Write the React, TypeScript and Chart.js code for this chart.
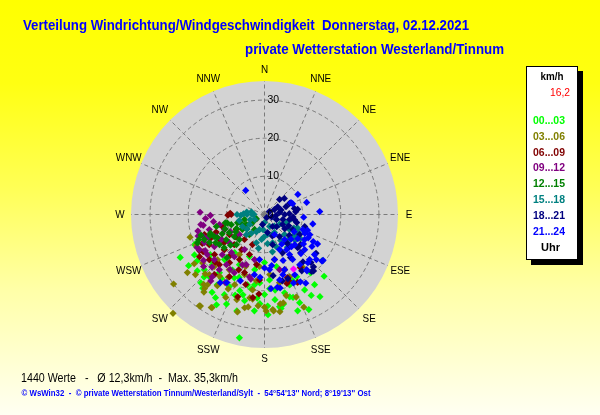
import React, { useEffect, useRef } from "react";
import { Chart, registerables } from "chart.js";

Chart.register(...registerables);

// ---------------- data ----------------
const compassLabels = ["N", "NNE", "NE", "ENE", "E", "ESE", "SE", "SSE", "S", "SSW", "SW", "WSW", "W", "WNW", "NW", "NNW"];
const speedTicks = [0, 10, 20, 30];
const speedMax = 35;
const hourLabels = ["00...03", "03...06", "06...09", "09...12", "12...15", "15...18", "18...21", "21...24"];
const hourColors = ["#00ff00", "#808000", "#800000", "#800080", "#008000", "#008080", "#000080", "#0000ff"];
const currentColor = "#ff00ff";

const titleText = "Verteilung Windrichtung/Windgeschwindigkeit  Donnerstag, 02.12.2021";
const subtitleText = "private Wetterstation Westerland/Tinnum";
const unitLabel = "km/h";
const currentSpeedLabel = "16,2";
const hourUnit = "Uhr";
const summaryText = "1440 Werte   -   Ø 12,3km/h  -  Max. 35,3km/h";
const footerText = "© WsWin32  -  © private Wetterstation Tinnum/Westerland/Sylt  -  54°54'13'' Nord; 8°19'13'' Ost";

// [wind direction in degrees, speed in km/h]
const h00_03: [number, number][] = [
  [243, 24.8], [235.5, 21.4], [223, 24.5], [220, 25.2], [210.5, 25.3], [203, 25.5], [196, 26.3], [191.5, 33],
  [186, 25.4], [178, 26.3], [170, 25], [161, 23], [161, 26.7], [155, 27.5], [141.6, 19.5], [136, 22.5],
  [128.6, 19.4], [157, 18.9], [246, 19.9], [213.9, 22.2], [206, 21], [198, 21], [193.6, 19], [206.6, 23.5],
  [221.6, 21.8], [227.5, 21.4], [240, 21.2], [226, 19], [217.8, 19.3], [205.5, 18.4], [188, 18.6], [180, 21],
  [173, 22.5], [175.6, 17.2], [193, 23.2], [165.6, 21.2], [160.3, 19.6], [152.7, 18.4], [152, 22.4], [144.5, 22.6],
  [158.3, 24.9], [170.7, 24.5], [233.5, 17.7], [221.6, 15.8], [206.6, 14.7], [190, 14.7], [218, 12.7], [199.6, 11.7],
  [180, 12.6], [167, 14], [247, 19.7], [214, 24.6], [183, 23.4], [200, 22.5], [195, 21.8], [185, 22],
  [178, 24], [172, 20], [168, 24], [163, 22.6], [150, 24.5], [146, 26], [208, 26.8], [214, 20.2],
  [224, 22.8], [230, 23], [236, 24], [202, 17.8], [190, 19.8], [176, 19.5], [184, 18], [210, 16.8],
  [230, 18.5],
];
const h03_06: [number, number][] = [
  [222.8, 35.3], [232.6, 30], [233, 25.3], [253, 20.4], [215, 29.3], [209.4, 28], [219, 25], [221, 24.3],
  [218, 25.8], [192, 25], [190, 24.6], [188, 22.4], [179, 25.3], [175, 25], [170, 23.8], [168, 23.7],
  [145, 16.4], [144, 17.3], [206, 21.7], [213.5, 22.4], [219, 23.7], [226, 17.1], [212.5, 17.2], [198.4, 16.6],
  [187, 17.5], [228.8, 14], [212, 12.4], [203, 20], [189, 20], [222.5, 21.4], [175, 15.8], [167.6, 18.3],
  [158, 17.6], [232, 20.6], [246, 19.6], [185.5, 13.7], [215.5, 29.4], [209.8, 28.1], [195.5, 26.5], [190, 22.2],
  [174.6, 25.4], [171, 25.8], [157, 26.4], [159, 23.2], [180, 24.3], [225, 22], [229, 24], [216, 20],
  [205, 24], [198, 23.5], [184, 24], [200, 14.5], [210, 19], [224, 19], [235, 22.5], [165, 22],
];
const h06_09: [number, number][] = [
  [272, 9], [270, 8.7], [269, 9.6], [241, 19.5], [248, 14.8], [246, 15.6], [238.8, 18.8], [162, 19],
  [160, 18.5], [198, 22.7], [184, 20.9], [188, 22], [154, 19.8], [160, 17.6], [146, 16.8], [241.4, 16.5],
  [241, 13.5], [240, 10.6], [231.3, 16.8], [228.8, 14], [225, 11.2], [218.7, 8.4], [222, 17.7], [216, 15.6],
  [209, 13.5], [200.6, 11.2], [219.8, 20.5], [209.4, 18.7], [199, 16.1], [189, 13.3], [184.4, 17.2], [251.6, 16.6],
  [254, 11.5], [242, 8.4], [230.7, 18.7], [167.5, 12.1], [160, 15.4], [201.8, 8.5], [237, 20.3], [235, 13],
  [226, 18], [213, 11], [205, 16], [195, 19], [245, 18], [250, 13.5], [220, 14], [232, 9.5],
];
const h09_12: [number, number][] = [
  [272, 16.9], [269, 14.2], [266, 15.5], [260, 16.3], [261, 16.9], [252, 18.3], [250, 17], [244, 19.7],
  [238.6, 18.2], [229.5, 21], [219, 22.4], [210, 20.6], [192, 17.3], [254.7, 15], [245.4, 13.9], [249.4, 11.2],
  [231.3, 11.8], [237.4, 15.6], [226.4, 15.3], [215.5, 13.6], [235, 18.3], [219.3, 18.7], [203.7, 14.4], [192.5, 12.1],
  [207.4, 17.2], [245, 17.4], [231.3, 8.4], [217.2, 16.5], [193.6, 16.8], [228, 17.7], [241.7, 19.4], [164.7, 15],
  [220, 21.3], [257.5, 12.1], [221, 13.2], [209.7, 10.6], [240, 13], [248, 16], [233, 20], [225, 19.5],
  [212, 17], [262, 13.5], [256, 18], [200, 14], [243, 10],
];
const h12_15: [number, number][] = [
  [257, 10], [253, 7.4], [237, 4.4], [247, 19.1], [249, 15.3], [244, 13.8], [258, 10.5], [251, 15],
  [249, 18.5], [221, 15], [243, 2.4], [236, 3.8], [241, 5.4], [236, 7], [243.4, 8.2], [233.7, 9.8],
  [242.8, 10.4], [236.7, 12], [245.5, 12.2], [236.3, 14.2], [225, 9.3], [216.9, 6.6], [246.3, 14.4], [253, 9.1],
  [256, 5.4], [230.5, 13.7], [243, 16.2], [223, 10.8], [213.7, 4.7], [256, 13], [247.4, 17.1], [239, 8.8],
  [250, 11], [228, 12], [232, 6], [248, 6.5], [240, 14.8], [252, 17.5],
];
const h15_18: [number, number][] = [
  [270, 7.2], [270, 4.6], [271, 2.8], [272, 5.5], [270, 3.2], [268, 6.2], [155, 5.5], [148, 8],
  [141, 9.7], [182, 6], [174, 7.7], [112, 9.3], [126, 9.4], [124, 11.4], [118, 10], [130, 10.5],
  [115, 8.5], [180, 2.1], [157, 3.4], [151, 5.4], [123.7, 4.7], [135, 7.4], [121, 7.7], [198.4, 4.2],
  [186.8, 6.6], [164, 7.7], [146, 8.5], [112.6, 3.4], [243, 2.9], [236, 4.7], [241.4, 6.6], [256.5, 6.8],
  [222, 7.1], [110, 6.2], [126.3, 9.8], [171.5, 5.3], [196, 7.7], [278, 4.7], [281, 3.5], [160, 9],
  [168, 10], [145, 10.5], [135, 9], [205, 5], [215, 6], [230, 6], [250, 4], [190, 9],
  [140, 4], [100, 7], [185, 4],
];
const h18_21: [number, number][] = [
  [51, 6.7], [45, 5.6], [66, 7.2], [81, 8.8], [85, 8.2], [139, 19.6], [136, 17.5], [127, 16.9],
  [160, 17.9], [172, 16.2], [165, 18], [141, 16], [140.4, 19.4], [137, 18.8], [146.5, 17.7], [59, 1.5],
  [63.4, 2.9], [82.4, 4], [90, 5.3], [112.6, 3.4], [101.3, 6.7], [78.7, 8], [146, 3.8], [119, 5.4],
  [118, 8.4], [170.5, 4.8], [145.7, 7], [141.8, 9.4], [119.7, 10.6], [104, 8.7], [165, 8.2], [191, 2.7],
  [142, 10.7], [129.8, 12.3], [154.7, 11.1], [106.7, 11], [146, 1], [135, 12.3], [136.5, 13.8], [148.8, 13.2],
  [75, 4.5], [95, 3], [105, 5], [88, 6.5], [70, 6], [125, 6.5], [135, 4.5], [100, 8],
  [115, 7], [160, 6], [130, 8.5], [95, 7.5], [60, 4], [110, 2],
];
const h21_24: [number, number][] = [
  [322, 8], [59, 10.2], [74, 11.5], [87, 14.5], [66, 7.6], [94, 10.3], [101, 12.9], [115, 11.7],
  [118, 13], [119, 15.9], [128, 19.5], [149, 21], [69, 7.9], [175, 19.5], [168, 19.7], [209, 20.4],
  [213, 21.3], [200, 18.5], [137, 14], [126, 10.8], [127, 12.8], [119, 14.6], [143, 18.5], [129, 19.4],
  [170, 19.4], [184, 16.5], [153.4, 5.9], [141.3, 8.4], [135, 11.2], [131.2, 14], [135, 16.7], [156.8, 10],
  [148, 12.4], [145, 16.1], [167.5, 12.1], [160, 15.4], [153.4, 17.7], [174.8, 14.5], [122, 12.4], [114, 13],
  [111.5, 10.8], [128.7, 16.8], [186.3, 11.9], [189.5, 16], [167, 17.6], [148, 13.9], [142.6, 18.2], [147.8, 10.9],
  [140, 11], [133, 9.5], [150, 9], [158, 13], [163, 16.5], [172, 13.5], [120, 9], [110, 12],
  [138, 17], [152, 20], [180, 14], [157, 19.5], [124, 15], [131, 18],
];
const currentReading: [number, number][] = [[152, 16.2]];

const hourGroups = [h00_03, h03_06, h06_09, h09_12, h12_15, h15_18, h18_21, h21_24];

// ---------------- drawing helpers ----------------
const FONT = "'Liberation Sans', Arial, sans-serif";

function toXY(p: [number, number]) {
  const a = (p[0] * Math.PI) / 180;
  return { x: p[1] * Math.sin(a), y: p[1] * Math.cos(a) };
}

function fitText(ctx: CanvasRenderingContext2D, text: string, x: number, y: number, width: number, align: string) {
  ctx.save();
  ctx.textAlign = "left";
  const w = ctx.measureText(text).width;
  const s = width / w;
  let x0 = x;
  if (align === "center") x0 = x - width / 2;
  else if (align === "right") x0 = x - width;
  ctx.translate(x0, y);
  ctx.scale(s, 1);
  ctx.fillText(text, 0, 0);
  ctx.restore();
}

function squeezeText(ctx: CanvasRenderingContext2D, text: string, x: number, y: number, sx: number, align: CanvasTextAlign) {
  ctx.save();
  ctx.translate(x, y);
  ctx.scale(sx, 1);
  ctx.textAlign = align;
  ctx.fillText(text, 0, 0);
  ctx.restore();
}

function geometry(chart: any) {
  const xs = chart.scales.x;
  const ys = chart.scales.y;
  const cx = xs.getPixelForValue(0);
  const cy = ys.getPixelForValue(0);
  const unit = xs.getPixelForValue(1) - cx;
  return { cx, cy, unit, R: unit * speedMax };
}

const rosePlugin = {
  id: "windRose",
  beforeDraw(chart: any) {
    const { ctx, width, height } = chart;
    const g = ctx.createLinearGradient(0, 0, 0, height);
    g.addColorStop(0, "#ffff00");
    g.addColorStop(0.2, "#ffff12");
    g.addColorStop(0.45, "#ffff55");
    g.addColorStop(0.7, "#ffffa8");
    g.addColorStop(1, "#fffff2");
    ctx.save();
    ctx.fillStyle = g;
    ctx.fillRect(0, 0, width, height);
    ctx.restore();
  },
  beforeDatasetsDraw(chart: any) {
    const ctx: CanvasRenderingContext2D = chart.ctx;
    const { cx, cy, unit, R } = geometry(chart);
    ctx.save();
    ctx.fillStyle = "#d3d3d3";
    ctx.beginPath();
    ctx.arc(cx, cy, R, 0, Math.PI * 2);
    ctx.fill();
    ctx.strokeStyle = "#7a7a7a";
    ctx.lineWidth = 1;
    ctx.setLineDash([4, 3]);
    speedTicks.forEach((t) => {
      if (t <= 0) return;
      ctx.beginPath();
      ctx.arc(cx, cy, t * unit, 0, Math.PI * 2);
      ctx.stroke();
    });
    compassLabels.forEach((_, i) => {
      const a = (i * 22.5 * Math.PI) / 180;
      ctx.beginPath();
      ctx.moveTo(cx, cy);
      ctx.lineTo(cx + R * Math.sin(a), cy - R * Math.cos(a));
      ctx.stroke();
    });
    ctx.setLineDash([]);
    ctx.fillStyle = "#000000";
    ctx.font = `11px ${FONT}`;
    ctx.textBaseline = "middle";
    speedTicks.forEach((t) => {
      if (t <= 0) return;
      squeezeText(ctx, String(t), cx + 3, cy - t * unit, 0.95, "left");
    });
    compassLabels.forEach((lab, i) => {
      const a = (i * 22.5 * Math.PI) / 180;
      const r = R + 11 + 3.5 * Math.abs(Math.sin(2 * a));
      squeezeText(ctx, lab, cx + r * Math.sin(a), cy - r * Math.cos(a), 0.9, "center");
    });
    ctx.restore();
  },
  afterDatasetsDraw(chart: any) {
    const ctx: CanvasRenderingContext2D = chart.ctx;
    const { cx, cy } = geometry(chart);
    ctx.save();
    ctx.fillStyle = "#000000";
    ctx.font = `11px ${FONT}`;
    ctx.textBaseline = "middle";
    squeezeText(ctx, String(speedTicks[0]), cx + 3, cy, 0.95, "left");
    ctx.restore();
  },
  afterDraw(chart: any) {
    const ctx: CanvasRenderingContext2D = chart.ctx;
    ctx.save();
    ctx.textBaseline = "alphabetic";
    ctx.fillStyle = "#0000ff";
    ctx.font = `bold 14px ${FONT}`;
    fitText(ctx, titleText, 23, 30, 446, "left");
    fitText(ctx, subtitleText, 245, 54, 259, "left");
    ctx.fillStyle = "#000000";
    ctx.font = `12px ${FONT}`;
    fitText(ctx, summaryText, 21, 382, 217, "left");
    ctx.fillStyle = "#0000ff";
    ctx.font = `bold 9px ${FONT}`;
    fitText(ctx, footerText, 21.5, 396, 349, "left");
    ctx.fillStyle = "#000000";
    ctx.fillRect(578, 71, 5, 194);
    ctx.fillRect(531, 260, 52, 5);
    ctx.fillStyle = "#ffffff";
    ctx.fillRect(526, 66, 52, 194);
    ctx.strokeStyle = "#000000";
    ctx.lineWidth = 1;
    ctx.strokeRect(526.5, 66.5, 51, 193);
    ctx.fillStyle = "#000000";
    ctx.font = `bold 11px ${FONT}`;
    fitText(ctx, unitLabel, 552, 80, 23, "center");
    ctx.fillStyle = "#ff0000";
    ctx.font = `11px ${FONT}`;
    fitText(ctx, currentSpeedLabel, 570, 96, 20, "right");
    ctx.font = `bold 11px ${FONT}`;
    hourLabels.forEach((lab, i) => {
      ctx.fillStyle = hourColors[i];
      fitText(ctx, lab, 533, 124 + i * 15.8, 32, "left");
    });
    ctx.fillStyle = "#000000";
    fitText(ctx, hourUnit, 550.5, 251, 19, "center");
    ctx.restore();
  },
};

export default function App() {
  const ref = useRef<HTMLCanvasElement>(null);
  useEffect(() => {
    const canvas = ref.current;
    if (!canvas) return;
    const n = hourGroups.length;
    const datasets: any[] = hourGroups.map((g, i) => ({
      label: hourLabels[i],
      data: g.map(toXY),
      backgroundColor: hourColors[i],
      borderColor: hourColors[i],
      borderWidth: 0,
      pointStyle: "rectRot",
      pointRadius: 3.6,
      order: n - i,
      clip: false,
    }));
    datasets.push({
      label: currentSpeedLabel,
      data: currentReading.map(toXY),
      backgroundColor: currentColor,
      borderColor: currentColor,
      borderWidth: 0,
      pointStyle: "rectRot",
      pointRadius: 3.6,
      order: 0,
      clip: false,
    });
    const chart = new Chart(canvas, {
      type: "scatter",
      data: { datasets },
      options: {
        responsive: false,
        animation: false,
        events: [],
        layout: { padding: { left: 131, right: 202, top: 81, bottom: 67 }, autoPadding: false },
        scales: {
          x: { type: "linear", min: -speedMax, max: speedMax, display: false },
          y: { type: "linear", min: -speedMax, max: speedMax, display: false },
        },
        plugins: { legend: { display: false }, tooltip: { enabled: false }, title: { display: false } },
      },
      plugins: [rosePlugin],
    } as any);
    return () => chart.destroy();
  }, []);
  return (
    <div style={{ position: "absolute", left: 0, top: 0, width: 600, height: 415, overflow: "hidden" }}>
      <canvas ref={ref} width={600} height={415} style={{ display: "block", width: 600, height: 415 }} />
    </div>
  );
}
